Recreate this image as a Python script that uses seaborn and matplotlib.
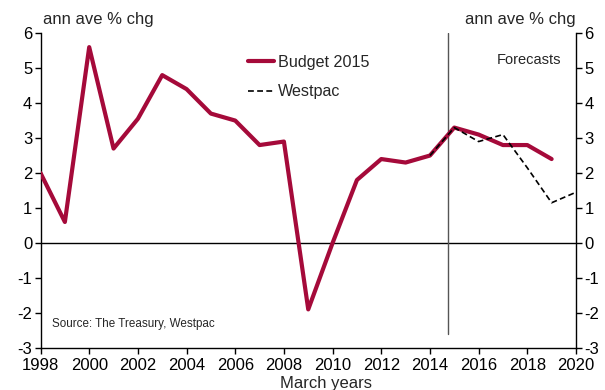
import matplotlib
matplotlib.use("Agg")
import matplotlib.pyplot as plt
import seaborn as sns
import pandas as pd

years_budget = [1998, 1999, 2000, 2001, 2002, 2003, 2004, 2005, 2006, 2007, 2008,
                2009, 2010, 2011, 2012, 2013, 2014, 2015, 2016, 2017, 2018, 2019]
budget_2015 = [2.0, 0.6, 5.6, 2.7, 3.55, 4.8, 4.4, 3.7, 3.5, 2.8, 2.9,
               -1.9, 0.0, 1.8, 2.4, 2.3, 2.5, 3.3, 3.1, 2.8, 2.8, 2.4]
years_westpac = [2014, 2015, 2016, 2017, 2018, 2019, 2020]
westpac = [2.5, 3.3, 2.9, 3.1, 2.15, 1.15, 1.45]
x_ticks = list(range(1998, 2021, 2))
y_ticks = list(range(-3, 7))
forecast_start = 2014.74

sns.set_theme(style="white")
plt.rcParams['font.family'] = ['Liberation Sans', 'DejaVu Sans']
plt.rcParams['axes.unicode_minus'] = False

df_b = pd.DataFrame({"year": years_budget, "value": budget_2015})
df_w = pd.DataFrame({"year": years_westpac, "value": westpac})

fig = plt.figure(figsize=(6.05, 3.9), dpi=100)
ax = fig.add_axes([0.067, 0.108, 0.885, 0.807])

ax.axhline(0, color="black", lw=1.0, zorder=1)
ax.plot([forecast_start, forecast_start], [-2.6, 6], color="#555555", lw=1.0, zorder=1)

sns.lineplot(data=df_b, x="year", y="value", ax=ax, color="#A50A3A", lw=3.0,
             label="Budget 2015", zorder=3)
sns.lineplot(data=df_w, x="year", y="value", ax=ax, color="black", lw=1.2,
             linestyle=(0, (3.5, 2)), label="Westpac", zorder=4)

ax.set_xlim(1998, 2020)
ax.set_ylim(-3, 6)
ax.set_xticks(x_ticks)
ax.set_yticks(y_ticks)
ax.tick_params(axis="both", labelsize=12, direction="out", length=4, width=1,
               color="black", labelcolor="black")
ax.tick_params(axis="y", left=True, right=True, labelleft=True, labelright=True, pad=2)
ax.tick_params(axis="x", bottom=True, pad=3)
for s in ["left", "right", "bottom"]:
    ax.spines[s].set_visible(True)
    ax.spines[s].set_color("black")
    ax.spines[s].set_linewidth(1.0)
ax.spines["top"].set_visible(False)
ax.grid(False)

ax.set_xlabel("March years", fontsize=12, labelpad=1)
ax.xaxis.set_label_coords(0.533, -0.088)
ax.set_ylabel("")

fig.text(0.071, 0.95, "ann ave % chg", fontsize=12, ha="left", va="center")
fig.text(0.952, 0.95, "ann ave % chg", fontsize=12, ha="right", va="center")
ax.text(0.852, 0.915, "Forecasts", transform=ax.transAxes, fontsize=10.5, ha="left", va="center")
ax.text(0.022, 0.075, "Source: The Treasury, Westpac", transform=ax.transAxes,
        fontsize=8.4, ha="left", va="center")

leg = ax.legend(loc="upper left", bbox_to_anchor=(0.375, 0.952), frameon=False,
                fontsize=11.6, handlelength=1.6, handletextpad=0.25, labelspacing=0.9,
                borderaxespad=0)

fig.savefig("out.png", dpi=100)
